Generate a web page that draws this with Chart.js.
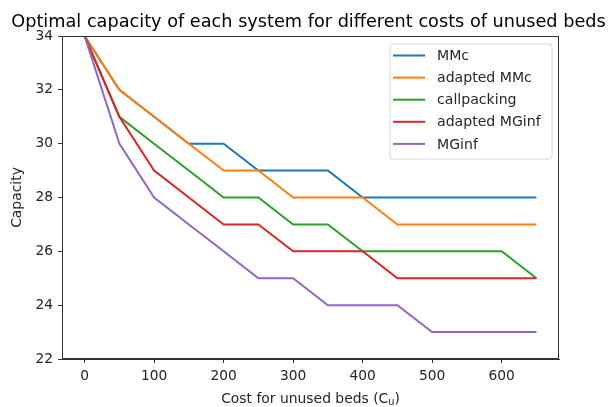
<!DOCTYPE html>
<html>
<head>
<meta charset="utf-8">
<title>Optimal capacity</title>
<script src="https://cdn.jsdelivr.net/npm/chart.js@4.4.1/dist/chart.umd.min.js"></script>
<style>
  html, body { margin: 0; padding: 0; background: #fff; }
  #wrap { width: 613px; height: 407px; }
</style>
</head>
<body>
<div id="wrap"><canvas id="c" width="613" height="407"></canvas></div>
<script>
// Cost for unused beds (x values)
const costs = [0, 50, 100, 150, 200, 250, 300, 350, 400, 450, 500, 550, 600, 650];

// Optimal capacity per system
const mmc          = [34, 32, 31, 30, 30, 29, 29, 29, 28, 28, 28, 28, 28, 28];
const adaptedMmc   = [34, 32, 31, 30, 29, 29, 28, 28, 28, 27, 27, 27, 27, 27];
const callpacking  = [34, 31, 30, 29, 28, 28, 27, 27, 26, 26, 26, 26, 26, 25];
const adaptedMginf = [34, 31, 29, 28, 27, 27, 26, 26, 26, 25, 25, 25, 25, 25];
const mginf        = [34, 30, 28, 27, 26, 25, 25, 24, 24, 24, 23, 23, 23, 23];

const seriesNames = ['MMc', 'adapted MMc', 'callpacking', 'adapted MGinf', 'MGinf'];
const seriesValues = [mmc, adaptedMmc, callpacking, adaptedMginf, mginf];
const seriesColors = ['#1f77b4', '#ff7f0e', '#2ca02c', '#d62728', '#9467bd'];

const xTicks = [0, 100, 200, 300, 400, 500, 600];
const yTicks = [22, 24, 26, 28, 30, 32, 34];

const FONT = "'DejaVu Sans', sans-serif";
const INK = '#262626';
const SPINE = '#333333';

const datasets = seriesValues.map((vals, i) => ({
  label: seriesNames[i],
  data: costs.map((c, j) => ({ x: c, y: vals[j] })),
  borderColor: seriesColors[i],
  backgroundColor: seriesColors[i],
  borderWidth: 2,
  pointRadius: 0,
  tension: 0,
  fill: false,
  order: seriesNames.length - i   // later series drawn on top
}));

// Frame, title, axis labels and legend drawn on the canvas
const decorations = {
  id: 'decorations',
  afterDatasetsDraw(chart) {
    const { ctx, chartArea: a } = chart;
    ctx.save();
    // full box around the plot area
    ctx.strokeStyle = SPINE;
    ctx.lineWidth = 1;
    ctx.strokeRect(Math.round(a.left) + 0.5, Math.round(a.top) + 0.5,
                   Math.round(a.right - a.left) - 1, Math.round(a.bottom - a.top) - 1);

    const cx = (a.left + a.right) / 2;
    const cy = (a.top + a.bottom) / 2;

    // title
    ctx.fillStyle = '#000';
    ctx.font = `17.7px ${FONT}`;
    ctx.textAlign = 'center';
    ctx.textBaseline = 'alphabetic';
    ctx.fillText('Optimal capacity of each system for different costs of unused beds', cx - 2, 27);

    // x-axis label with subscript
    ctx.fillStyle = INK;
    const main = 'Cost for unused beds (C';
    const sub = 'u';
    const close = ')';
    ctx.font = `13.9px ${FONT}`;
    const wMain = ctx.measureText(main).width;
    const wClose = ctx.measureText(close).width;
    ctx.font = `9.7px ${FONT}`;
    const wSub = ctx.measureText(sub).width;
    let x = cx - (wMain + wSub + wClose) / 2;
    const base = 403;
    ctx.textAlign = 'left';
    ctx.font = `13.9px ${FONT}`;
    ctx.fillText(main, x, base);
    x += wMain;
    ctx.font = `9.7px ${FONT}`;
    ctx.fillText(sub, x, base + 2);
    x += wSub;
    ctx.font = `13.9px ${FONT}`;
    ctx.fillText(close, x, base);

    // y-axis label
    ctx.save();
    ctx.translate(21, cy);
    ctx.rotate(-Math.PI / 2);
    ctx.textAlign = 'center';
    ctx.textBaseline = 'alphabetic';
    ctx.fillText('Capacity', 0, 0);
    ctx.restore();

    // legend box
    const lx = 390, ly = 44, lw = 162, lh = 115, r = 3;
    ctx.beginPath();
    ctx.moveTo(lx + r, ly);
    ctx.lineTo(lx + lw - r, ly);
    ctx.arcTo(lx + lw, ly, lx + lw, ly + r, r);
    ctx.lineTo(lx + lw, ly + lh - r);
    ctx.arcTo(lx + lw, ly + lh, lx + lw - r, ly + lh, r);
    ctx.lineTo(lx + r, ly + lh);
    ctx.arcTo(lx, ly + lh, lx, ly + lh - r, r);
    ctx.lineTo(lx, ly + r);
    ctx.arcTo(lx, ly, lx + r, ly, r);
    ctx.closePath();
    ctx.fillStyle = 'rgba(255,255,255,0.8)';
    ctx.fill();
    ctx.strokeStyle = '#d6d6d6';
    ctx.lineWidth = 1;
    ctx.stroke();

    ctx.font = `14.1px ${FONT}`;
    ctx.textAlign = 'left';
    ctx.textBaseline = 'middle';
    chart.data.datasets.forEach((ds, i) => {
      const yy = 55.5 + i * 22.1;
      ctx.strokeStyle = ds.borderColor;
      ctx.lineWidth = 2;
      ctx.beginPath();
      ctx.moveTo(393, yy);
      ctx.lineTo(425, yy);
      ctx.stroke();
      ctx.fillStyle = INK;
      ctx.fillText(ds.label, 437, yy + 1);
    });
    ctx.restore();
  }
};

new Chart(document.getElementById('c'), {
  type: 'line',
  data: { datasets },
  plugins: [decorations],
  options: {
    responsive: false,
    animation: false,
    devicePixelRatio: 1,
    layout: { padding: { top: 36, right: 54, left: 0, bottom: 0 } },
    plugins: {
      legend: { display: false },
      title: { display: false },
      tooltip: { enabled: false }
    },
    scales: {
      x: {
        type: 'linear',
        min: -32.5,
        max: 682.5,
        afterBuildTicks: s => { s.ticks = xTicks.map(v => ({ value: v })); },
        afterFit: s => { s.height = 48; },
        grid: { drawOnChartArea: false, drawTicks: true, tickLength: 4, color: SPINE },
        border: { display: true, color: SPINE, width: 1 },
        ticks: { color: INK, font: { family: FONT, size: 13.8 }, padding: 5, maxRotation: 0 }
      },
      y: {
        type: 'linear',
        min: 22,
        max: 34,
        afterBuildTicks: s => { s.ticks = yTicks.map(v => ({ value: v })); },
        afterFit: s => { s.width = 62; },
        grid: { drawOnChartArea: false, drawTicks: true, tickLength: 4, color: SPINE },
        border: { display: true, color: SPINE, width: 1 },
        ticks: { color: INK, font: { family: FONT, size: 13.8 }, padding: 5 }
      }
    }
  }
});
</script>
</body>
</html>
